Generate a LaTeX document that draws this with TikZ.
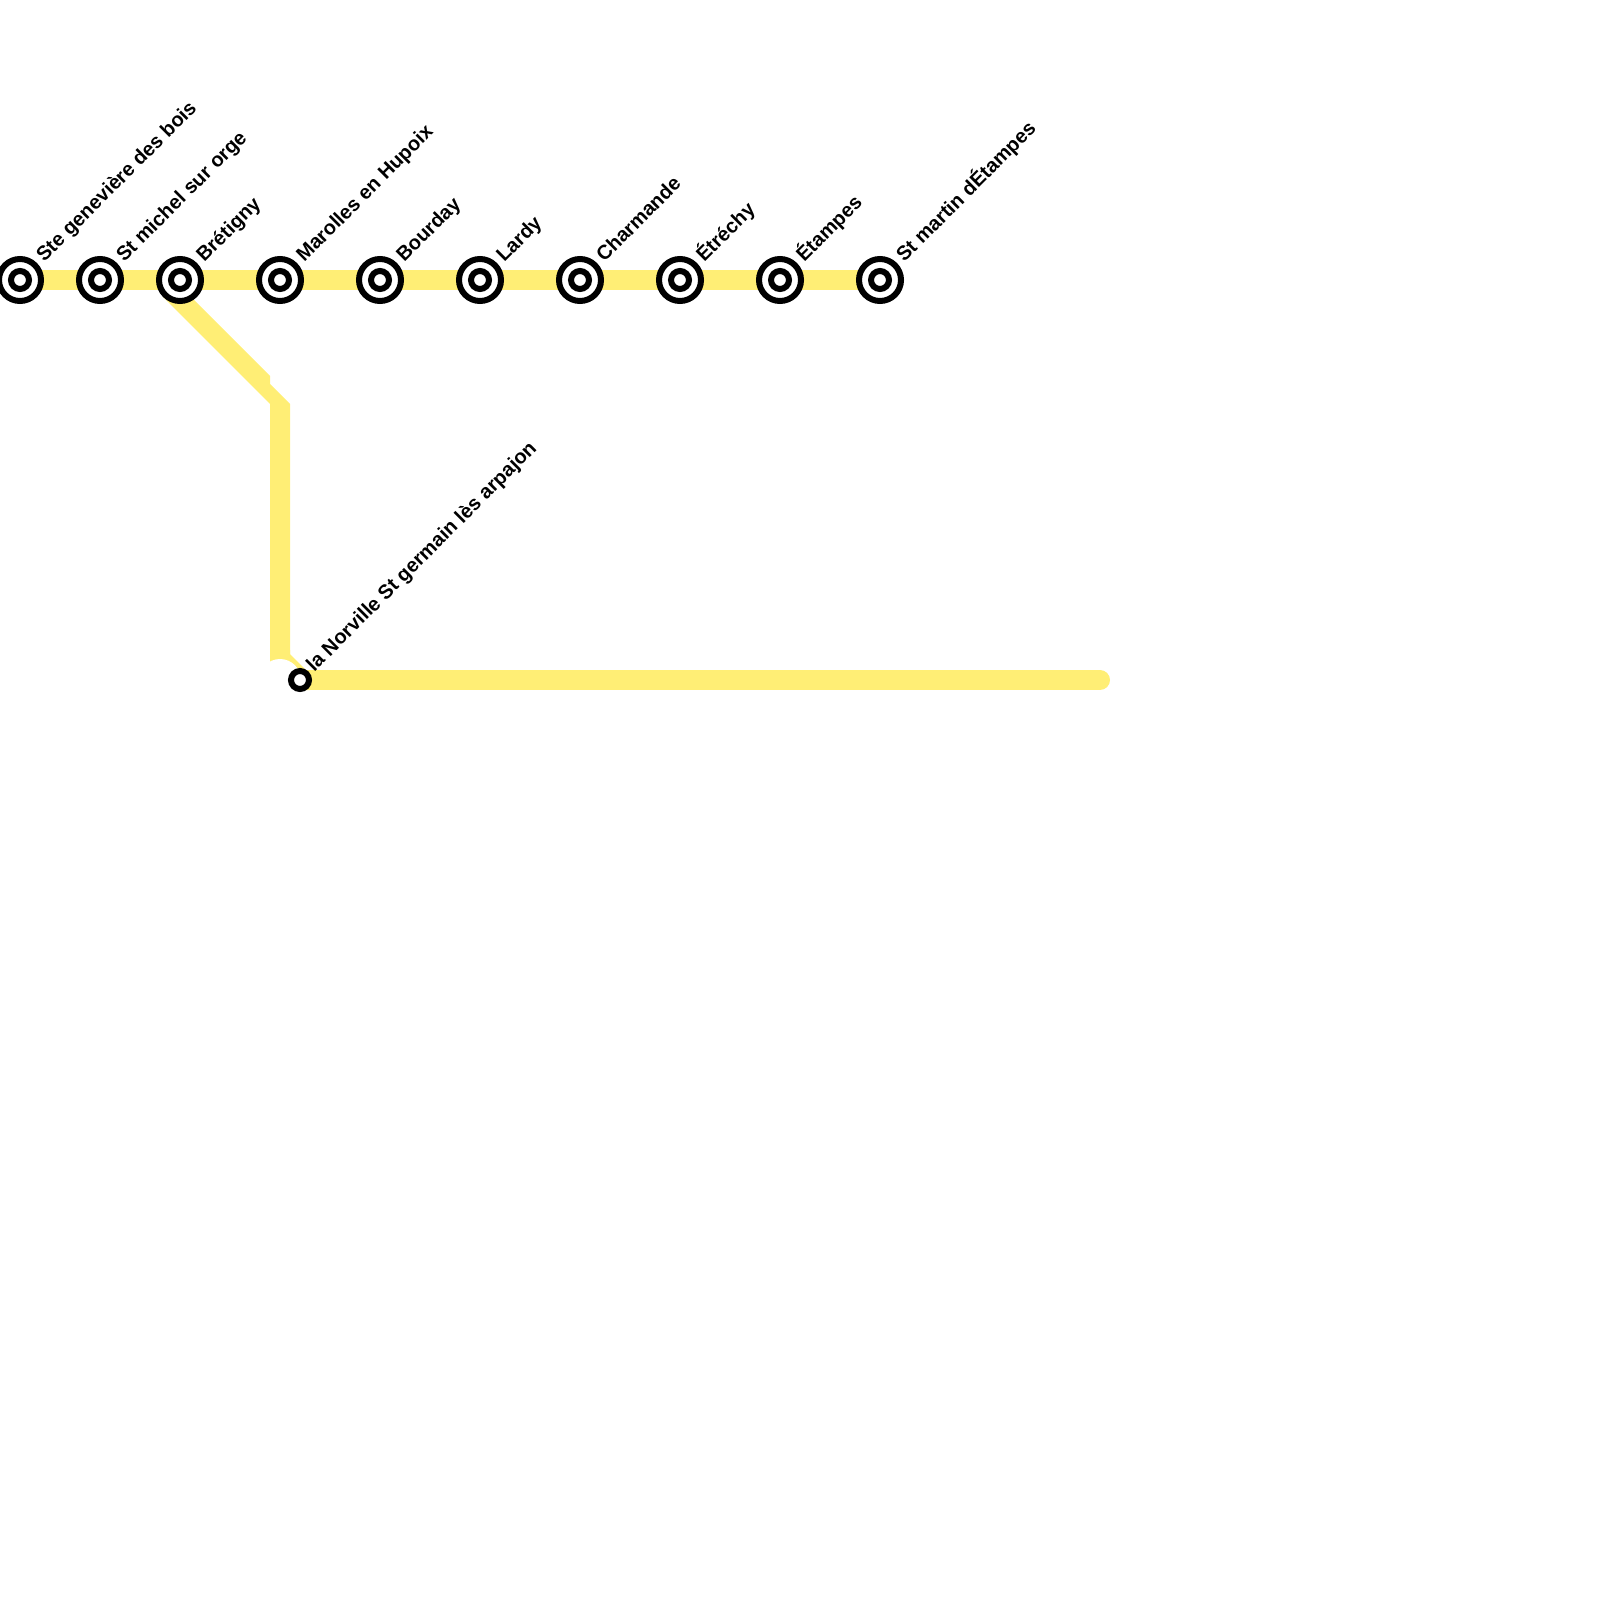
\documentclass[tikz,border=0pt]{standalone}
\usepackage{fontspec}
\setmainfont{Liberation Sans}
\definecolor{linecol}{HTML}{FFEE75}
\tikzset{
  x=0.5pt,y=-0.5pt,
  railline/.style={draw=linecol,line width=10pt},
  ringout/.style={circle,draw=black,fill=white,line width=3pt,minimum size=21pt,inner sep=0pt},
  ringin/.style={circle,draw=black,fill=white,line width=3pt,minimum size=9pt,inner sep=0pt},
  lab/.style={font=\bfseries\fontsize{10pt}{12pt}\selectfont,rotate=45,anchor=base west,inner sep=0pt}
}
\begin{document}
\begin{tikzpicture}
\useasboundingbox (0,0) rectangle (1600,1600);
\coordinate (s1) at (20,280);
\coordinate (s10) at (880,280);
\coordinate (c3) at (300,680);
\coordinate (endp) at (1100,680);
\draw[railline] (s1) -- (s10);
\fill[linecol] (163,297) -- (177,283) -- (270,376) -- (270,384) -- (290,404) -- (290,660) -- (270,660) -- (270,404) -- cycle;
\fill[linecol] (270,650) -- (290,650) -- (290,654) -- (310,674) -- (310,690) -- (300,690) -- (270,664) -- cycle;
\fill[white] (280,680) circle (21);
\draw[railline,line cap=round] (c3) -- (endp);
\foreach \n/\x/\t in {a/20/Ste genevière des bois,b/100/St michel sur orge,c/180/Brétigny,d/280/Marolles en Hupoix,e/380/Bourday,f/480/Lardy,g/580/Charmande,h/680/Étréchy,i/780/Étampes,j/880/St martin dÉtampes}{
  \node[ringout] (\n o) at (\x,280) {};
  \node[ringin] (\n i) at (\x,280) {};
  \node[lab] (\n t) at (\x+24,263) {\t};
}
\node[ringin] (k) at (300,680) {};
\node[lab] (kt) at (314,673) {la Norville St germain lès arpajon};
\end{tikzpicture}
\end{document}
